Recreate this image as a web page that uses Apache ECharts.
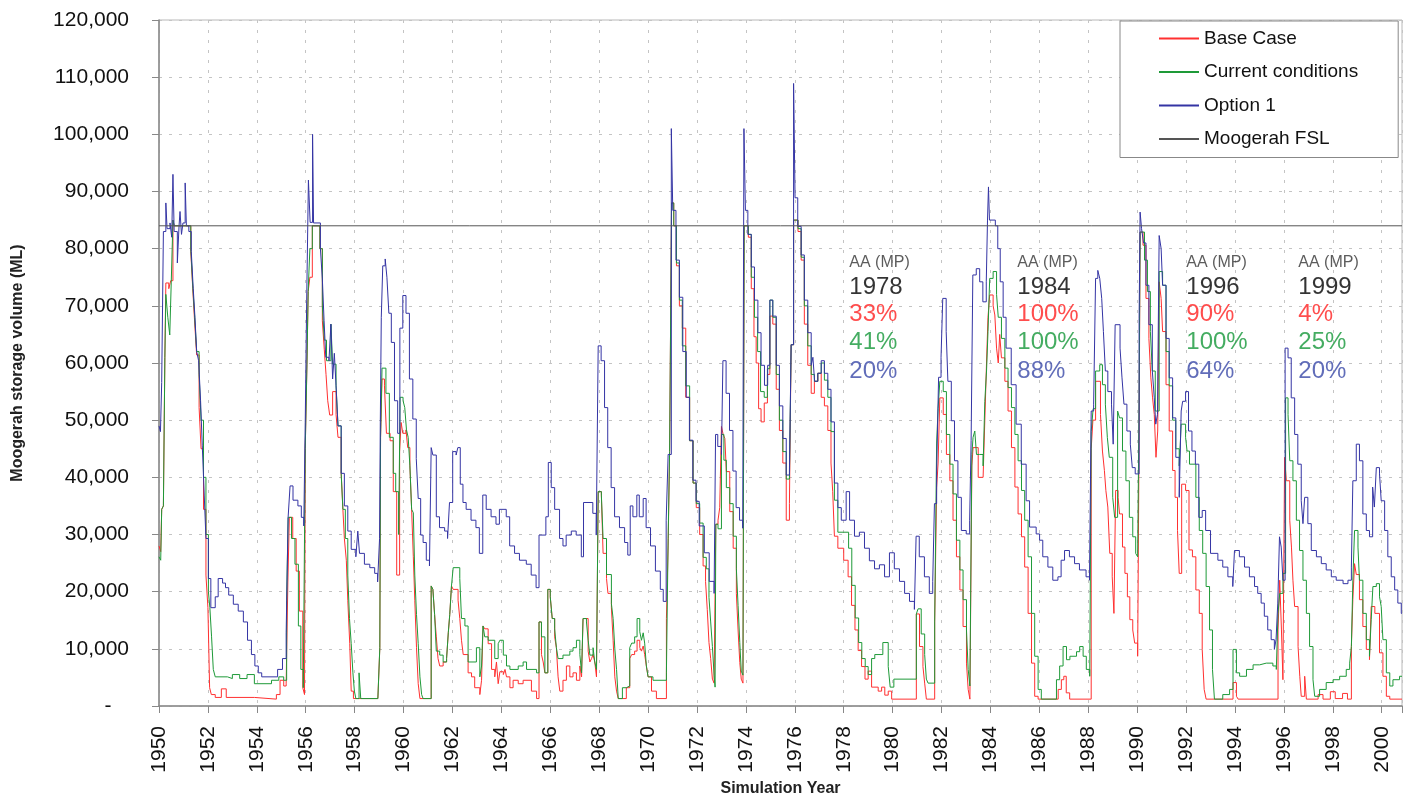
<!DOCTYPE html>
<html>
<head>
<meta charset="utf-8">
<script src="https://cdn.jsdelivr.net/npm/echarts@6/dist/echarts.min.js"></script>
<style>
html,body{margin:0;padding:0;background:#fff;}
#chart{width:1409px;height:802px;}
</style>
</head>
<body>
<div id="chart"></div>
<script>
// ---------- DATA (simulation year, storage ML) ----------
const seriesNames = ['Base Case', 'Current conditions', 'Option 1', 'Moogerah FSL'];

const baseCase = [
[1950.00,28000],[1950.07,27000],[1950.11,34400],[1950.18,35000],[1950.24,61000],[1950.28,74000],[1950.40,73000],[1950.48,74400],
[1950.57,85000],[1950.62,84000],[1951.30,79500],[1951.38,73000],[1951.46,67000],[1951.54,61400],[1951.64,52200],[1951.72,45000],
[1951.82,34400],[1951.92,22900],[1952.00,17200],[1952.07,3200],[1952.14,2000],[1952.30,1500],[1952.55,3000],[1952.75,1500],
[1953.90,1200],[1954.80,2000],[1954.95,4500],[1955.10,3500],[1955.20,4000],[1955.27,21700],[1955.33,33000],[1955.47,29300],
[1955.61,23600],[1955.74,16600],[1955.88,3200],[1955.95,2000],[1955.98,45000],[1956.05,59800],[1956.10,72500],[1956.17,75000],
[1956.27,84000],[1956.58,80000],[1956.68,67400],[1956.76,62300],[1956.83,58000],[1956.90,53400],[1956.98,50900],[1957.10,55000],
[1957.24,51000],[1957.32,47000],[1957.45,40700],[1957.52,34400],[1957.58,29300],[1957.66,25500],[1957.72,18500],[1957.80,10900],
[1957.86,2600],[1957.95,1300],[1958.95,1600],[1959.03,10200],[1959.06,47000],[1959.12,57200],[1959.22,56000],[1959.30,47700],
[1959.45,46400],[1959.58,37500],[1959.72,22900],[1959.84,44500],[1959.90,49600],[1959.97,47700],[1960.10,48300],[1960.17,45200],
[1960.26,42000],[1960.33,34400],[1960.40,26100],[1960.46,18500],[1960.53,10200],[1960.60,3900],[1960.67,1300],[1961.13,21000],
[1961.20,20400],[1961.27,16000],[1961.34,12100],[1961.41,8300],[1961.48,7000],[1961.62,7700],[1961.76,8300],[1961.83,12800],
[1961.89,16000],[1961.96,21000],[1962.03,20400],[1962.23,18500],[1962.30,15300],[1962.37,11500],[1962.44,9000],[1962.64,5800],
[1962.78,5100],[1962.91,3200],[1963.12,2000],[1963.19,4500],[1963.25,14000],[1963.32,13500],[1963.46,10900],[1963.60,6400],
[1963.73,5100],[1963.80,7700],[1963.87,3900],[1963.94,6000],[1964.08,5500],[1964.15,6400],[1964.21,5100],[1964.35,3200],
[1964.48,4500],[1964.69,3900],[1964.89,4500],[1965.23,2600],[1965.44,1300],[1965.54,14700],[1965.64,9000],[1965.71,7700],
[1965.78,5800],[1965.90,20400],[1966.00,19100],[1966.08,15300],[1966.18,12100],[1966.25,10200],[1966.32,5100],[1966.39,2600],
[1966.52,4500],[1966.66,7000],[1966.80,5100],[1966.93,5800],[1967.07,4500],[1967.21,7000],[1967.28,5100],[1967.34,15300],
[1967.55,9600],[1967.62,7700],[1967.69,8300],[1967.75,9000],[1967.82,7700],[1967.89,5100],[1967.96,37500],[1968.09,36900],
[1968.16,26700],[1968.30,22300],[1968.36,19700],[1968.50,17200],[1968.57,11500],[1968.64,5100],[1968.71,2600],[1968.78,1300],
[1969.11,3200],[1969.25,8300],[1969.33,9000],[1969.45,9600],[1969.55,11500],[1969.66,10200],[1969.73,9600],[1969.80,10500],
[1969.86,9000],[1969.93,7000],[1970.00,5100],[1970.14,2600],[1970.34,1300],[1970.75,15300],[1970.82,28000],[1970.88,44500],
[1970.96,88000],[1971.05,84000],[1971.16,77000],[1971.28,70000],[1971.40,66100],[1971.54,54000],[1971.70,46400],[1971.84,39000],
[1971.97,34700],[1972.11,30000],[1972.25,24500],[1972.35,21800],[1972.42,16900],[1972.49,11100],[1972.56,8300],[1972.63,4700],
[1972.70,4000],[1972.77,31800],[1972.86,32500],[1972.93,34700],[1973.00,48900],[1973.07,47500],[1973.14,46800],[1973.20,41000],
[1973.34,34000],[1973.48,27600],[1973.61,19700],[1973.68,13300],[1973.75,7600],[1973.81,4700],[1973.88,4000],[1973.93,84000],
[1974.10,82000],[1974.22,73000],[1974.33,64600],[1974.42,60000],[1974.52,52000],[1974.62,49700],[1974.75,53000],[1974.88,58000],
[1974.98,68200],[1975.10,66800],[1975.24,55400],[1975.37,48200],[1975.51,42500],[1975.65,32500],[1975.78,35400],[1975.85,63200],
[1975.95,85000],[1976.13,83000],[1976.26,78000],[1976.39,66800],[1976.53,59600],[1976.67,54700],[1976.80,56800],[1976.94,58200],
[1977.08,54000],[1977.21,52500],[1977.35,48200],[1977.48,42500],[1977.55,37500],[1977.62,29700],[1977.76,27600],[1978.00,25500],
[1978.18,22600],[1978.32,17600],[1978.46,13300],[1978.59,9700],[1978.73,6900],[1978.87,4700],[1979.00,6100],[1979.14,3300],
[1979.41,2600],[1979.55,3300],[1979.68,1900],[1979.82,2600],[1979.96,1200],[1980.97,16100],[1981.10,10400],[1981.24,6900],
[1981.31,4000],[1981.38,1200],[1981.72,14700],[1981.80,38200],[1981.86,42500],[1981.93,53900],[1982.07,51000],[1982.20,44000],
[1982.34,39400],[1982.47,32500],[1982.61,26100],[1982.75,20300],[1982.88,13900],[1983.02,7500],[1983.09,2900],[1983.16,1200],
[1983.24,42000],[1983.29,45200],[1983.50,40000],[1983.70,40000],[1983.77,50000],[1983.84,60000],[1983.90,68000],[1983.97,71900],
[1984.11,70000],[1984.18,68400],[1984.25,62600],[1984.32,60000],[1984.38,65000],[1984.45,60900],[1984.59,56800],[1984.72,51600],
[1984.86,45200],[1985.00,38300],[1985.13,33600],[1985.27,29600],[1985.40,24300],[1985.54,16200],[1985.68,7500],[1985.81,1700],
[1985.95,1200],[1986.77,2900],[1986.90,4600],[1987.00,5200],[1987.10,2300],[1987.24,1200],[1988.12,45000],[1988.19,50000],
[1988.30,56800],[1988.50,51000],[1988.58,44600],[1988.66,41200],[1988.72,37700],[1988.80,34800],[1988.88,26700],[1988.98,22600],
[1989.05,16200],[1989.12,37700],[1989.22,36500],[1989.28,33600],[1989.40,27800],[1989.50,23200],[1989.60,19100],[1989.70,15100],
[1989.82,13300],[1989.90,11000],[1990.02,8700],[1990.08,48100],[1990.12,82900],[1990.24,80600],[1990.36,71300],[1990.48,64300],
[1990.56,57400],[1990.63,53900],[1990.70,51000],[1990.77,43500],[1990.84,48100],[1990.90,74200],[1990.98,71300],[1991.04,65500],
[1991.18,56200],[1991.31,48100],[1991.45,41200],[1991.55,36500],[1991.65,30700],[1991.72,23200],[1991.82,38800],[1991.98,37700],
[1992.12,27300],[1992.26,26100],[1992.40,20300],[1992.54,16200],[1992.66,9900],[1992.74,2900],[1992.82,1200],[1993.92,4100],
[1994.06,1700],[1994.13,1200],[1995.76,13300],[1995.83,22000],[1995.90,13300],[1995.96,4600],[1996.03,43500],[1996.10,39400],
[1996.24,32500],[1996.31,27800],[1996.37,22000],[1996.44,17400],[1996.58,10400],[1996.65,5200],[1996.71,1700],[1996.85,5200],
[1996.92,1200],[1997.40,2000],[1997.60,1200],[1997.90,2500],[1998.10,1300],[1998.40,2200],[1998.60,1200],[1998.76,10400],
[1998.82,18600],[1998.89,24900],[1998.96,23000],[1999.09,18600],[1999.23,13900],[1999.37,9900],[1999.50,8100],[1999.57,17400],
[1999.72,16200],[1999.91,9300],[2000.05,5200],[2000.19,1700],[2000.33,1200],[2000.83,1200]
];

const currentConditions = [
[1950.00,26100],[1950.07,25500],[1950.11,34400],[1950.18,35000],[1950.24,61000],[1950.28,72000],[1950.36,68000],[1950.44,64900],
[1950.50,74000],[1950.57,85000],[1950.62,84000],[1951.30,80000],[1951.38,73500],[1951.46,68000],[1951.54,62000],[1951.64,58000],
[1951.72,50000],[1951.82,40000],[1951.92,30000],[1952.02,20000],[1952.08,17200],[1952.15,12100],[1952.22,6400],[1952.30,5100],
[1952.80,4800],[1953.00,5500],[1953.30,4800],[1953.60,5500],[1953.90,3900],[1954.60,4500],[1954.90,5100],[1955.10,4500],
[1955.22,18500],[1955.28,33000],[1955.42,29300],[1955.56,24800],[1955.70,14000],[1955.80,6400],[1955.90,3200],[1955.98,45000],
[1956.05,59800],[1956.10,72500],[1956.17,80000],[1956.27,84000],[1956.58,80000],[1956.68,70000],[1956.76,64000],[1956.85,60400],
[1957.03,66800],[1957.10,59800],[1957.24,56000],[1957.32,49000],[1957.45,40700],[1957.52,34400],[1957.62,29300],[1957.72,22900],
[1957.79,15300],[1957.86,10900],[1957.93,5800],[1957.99,2600],[1958.05,1300],[1958.18,5800],[1958.25,1300],[1958.95,1600],
[1959.03,10200],[1959.06,47000],[1959.12,59100],[1959.28,54700],[1959.42,47000],[1959.58,40700],[1959.68,37500],[1959.80,30000],
[1959.86,54000],[1959.98,53400],[1960.05,52200],[1960.12,48300],[1960.19,47000],[1960.26,42000],[1960.33,34400],[1960.40,33800],
[1960.46,22900],[1960.53,16000],[1960.60,10900],[1960.67,5100],[1960.74,2000],[1960.80,1300],[1961.13,21000],[1961.20,20400],
[1961.27,16000],[1961.34,9600],[1961.48,8900],[1961.62,7700],[1961.76,8300],[1961.83,12800],[1961.89,16000],[1961.96,21000],
[1962.03,24200],[1962.30,22300],[1962.37,15300],[1962.51,14000],[1962.64,7700],[1962.98,10200],[1963.12,5100],[1963.19,7000],
[1963.25,14000],[1963.32,12100],[1963.46,11500],[1963.73,8300],[1963.87,10900],[1963.94,11500],[1964.08,8900],[1964.21,7000],
[1964.35,6400],[1964.69,7000],[1964.89,7700],[1965.03,6400],[1965.44,5800],[1965.54,14700],[1965.64,12100],[1965.78,5800],
[1965.90,20400],[1966.00,19100],[1966.08,15300],[1966.18,13500],[1966.25,10200],[1966.32,8300],[1966.52,8900],[1966.80,9600],
[1966.93,10200],[1967.07,11500],[1967.21,9000],[1967.28,5800],[1967.34,15300],[1967.48,14700],[1967.55,11500],[1967.62,8900],
[1967.75,10200],[1967.82,7700],[1967.89,6400],[1967.96,37500],[1968.09,36900],[1968.16,29300],[1968.30,23000],[1968.50,17900],
[1968.57,15300],[1968.64,10000],[1968.71,6400],[1968.78,1300],[1968.95,3200],[1969.11,3500],[1969.25,10200],[1969.33,11000],
[1969.45,12100],[1969.55,15300],[1969.66,13000],[1969.73,11500],[1969.80,12800],[1969.86,11000],[1969.93,7000],[1970.00,5100],
[1970.20,4500],[1970.75,5800],[1970.82,29300],[1970.88,44500],[1970.96,88000],[1971.05,84000],[1971.16,77500],[1971.28,71000],
[1971.40,63000],[1971.54,56000],[1971.70,46400],[1971.84,39000],[1971.97,35400],[1972.11,32000],[1972.25,26000],[1972.38,24000],
[1972.49,19000],[1972.56,14700],[1972.63,10400],[1972.70,5400],[1972.74,3300],[1972.77,31800],[1972.86,31000],[1973.00,47500],
[1973.10,43000],[1973.20,38200],[1973.34,35400],[1973.48,29700],[1973.61,24000],[1973.68,17600],[1973.75,11100],[1973.81,6100],
[1973.88,5400],[1973.93,84000],[1974.10,82500],[1974.22,75000],[1974.35,68000],[1974.48,62000],[1974.60,55000],[1974.75,54000],
[1974.88,59000],[1974.98,71000],[1975.10,68000],[1975.24,58000],[1975.37,50000],[1975.51,44500],[1975.65,39700],[1975.78,40000],
[1975.85,63200],[1975.95,85000],[1976.13,83500],[1976.26,78500],[1976.39,70000],[1976.53,63000],[1976.67,58000],[1976.80,56800],
[1976.94,58200],[1977.08,60000],[1977.21,57000],[1977.35,54000],[1977.48,48000],[1977.62,36000],[1977.76,30400],[1978.20,27600],
[1978.33,21100],[1978.47,15400],[1978.61,11100],[1978.74,8300],[1978.88,6900],[1979.00,5500],[1979.14,8300],[1979.27,9000],
[1979.60,11100],[1979.82,6900],[1979.90,3300],[1980.05,4700],[1980.97,16100],[1981.04,17000],[1981.17,12600],[1981.31,9000],
[1981.38,4700],[1981.45,4000],[1981.72,14700],[1981.80,46000],[1981.86,52000],[1981.93,56800],[1982.07,55000],[1982.20,47500],
[1982.34,42300],[1982.47,37100],[1982.61,29000],[1982.75,23800],[1982.88,18600],[1983.02,13300],[1983.09,6400],[1983.16,3500],
[1983.24,44000],[1983.29,47000],[1983.36,48100],[1983.43,44000],[1983.56,44000],[1983.70,42000],[1983.77,53300],[1983.84,58600],
[1983.90,65500],[1983.97,74800],[1984.11,76000],[1984.25,72000],[1984.32,68000],[1984.45,64300],[1984.59,59100],[1984.72,55700],
[1984.86,52200],[1985.00,47500],[1985.13,42900],[1985.27,37700],[1985.40,32500],[1985.54,26100],[1985.68,16200],[1985.81,8700],
[1985.95,2900],[1986.08,1200],[1986.70,4600],[1986.83,7000],[1986.97,10400],[1987.11,8100],[1987.25,8700],[1987.52,9500],
[1987.65,10400],[1987.79,8700],[1987.92,6400],[1988.06,5200],[1988.12,48000],[1988.20,52000],[1988.30,58600],[1988.47,59700],
[1988.58,56200],[1988.70,52800],[1988.78,47000],[1988.86,43500],[1989.00,36500],[1989.08,33000],[1989.20,51600],[1989.28,50400],
[1989.40,44600],[1989.54,39400],[1989.68,33000],[1989.82,29600],[1989.94,26700],[1990.02,26100],[1990.08,53900],[1990.12,82900],
[1990.30,78000],[1990.42,72500],[1990.54,65500],[1990.62,58600],[1990.74,51600],[1990.90,76000],[1991.04,73600],[1991.18,62000],
[1991.31,56000],[1991.45,50000],[1991.58,45000],[1991.72,42000],[1991.80,49300],[1991.98,47000],[1992.04,44600],[1992.14,42300],
[1992.40,36500],[1992.54,30700],[1992.68,26700],[1992.82,20900],[1992.96,13300],[1993.08,6400],[1993.16,1200],[1993.50,2000],
[1993.78,2900],[1993.92,9900],[1994.06,5800],[1994.19,5200],[1994.47,6400],[1994.74,7200],[1995.01,7500],[1995.28,7500],
[1995.55,7000],[1995.69,6400],[1995.76,16200],[1995.83,19700],[1995.96,23200],[1996.07,53900],[1996.17,51000],[1996.24,42900],
[1996.37,39400],[1996.51,32500],[1996.64,27200],[1996.78,22000],[1996.92,16200],[1997.05,10400],[1997.19,4600],[1997.26,1700],
[1997.46,2900],[1997.73,4100],[1998.01,4600],[1998.28,5200],[1998.55,6400],[1998.69,7500],[1998.76,10400],[1998.82,22000],
[1998.89,30700],[1999.03,27800],[1999.09,22000],[1999.23,16200],[1999.37,11600],[1999.50,8700],[1999.57,15100],[1999.64,20900],
[1999.78,21400],[1999.91,19100],[1999.98,17400],[2000.05,11600],[2000.19,5800],[2000.33,3500],[2000.46,4600],[2000.73,5200],
[2000.83,5200]
];

const option1 = [
[1950.00,49000],[1950.06,48000],[1950.11,56600],[1950.18,83000],[1950.28,88000],[1950.33,83500],[1950.45,84500],[1950.52,82000],
[1950.57,93000],[1950.62,83000],[1950.75,77500],[1950.82,84000],[1950.86,86500],[1950.92,82500],[1950.98,84500],[1951.07,91500],
[1951.12,84000],[1951.22,83000],[1951.32,79500],[1951.40,73000],[1951.47,68000],[1951.54,62000],[1951.62,60400],[1951.70,53400],
[1951.77,45500],[1951.85,36900],[1951.92,29300],[1952.02,22300],[1952.12,17200],[1952.30,19100],[1952.42,22300],[1952.60,21500],
[1952.72,20700],[1952.85,19400],[1953.04,17800],[1953.24,16600],[1953.45,14700],[1953.62,11500],[1953.78,9000],[1953.92,7000],
[1954.06,5800],[1954.20,5100],[1954.85,6400],[1955.05,8300],[1955.20,12800],[1955.28,33000],[1955.36,38500],[1955.48,36000],
[1955.68,35000],[1955.82,33000],[1955.92,31500],[1955.98,49600],[1956.04,71000],[1956.11,92000],[1956.18,84600],[1956.28,100000],
[1956.32,84500],[1956.60,80000],[1956.68,74700],[1956.75,67400],[1956.82,61000],[1956.95,60400],[1957.03,66800],[1957.10,57200],
[1957.17,61700],[1957.24,56000],[1957.32,49000],[1957.45,40700],[1957.58,35000],[1957.72,30600],[1957.86,27400],[1958.05,26100],
[1958.13,30600],[1958.20,26700],[1958.40,24800],[1958.62,24200],[1958.82,23200],[1958.94,21700],[1959.02,29300],[1959.05,49600],
[1959.09,68000],[1959.15,77000],[1959.25,78200],[1959.32,75000],[1959.40,68700],[1959.50,63600],[1959.63,53400],[1959.76,47700],
[1959.85,66100],[1959.97,71800],[1960.10,68700],[1960.24,57200],[1960.38,50200],[1960.52,43300],[1960.60,36300],[1960.70,29900],
[1960.80,28600],[1960.93,25500],[1961.06,24500],[1961.13,45200],[1961.20,43900],[1961.34,33100],[1961.47,31200],[1961.68,30600],
[1961.80,29300],[1961.88,35600],[1962.01,44500],[1962.15,43900],[1962.22,45200],[1962.32,38800],[1962.43,35600],[1962.56,34400],
[1962.76,32500],[1962.96,31200],[1963.10,26700],[1963.24,36900],[1963.38,34400],[1963.58,33100],[1963.78,31800],[1963.92,34400],
[1964.20,33100],[1964.34,28000],[1964.54,26700],[1964.74,25500],[1965.02,24800],[1965.22,22900],[1965.42,20700],[1965.54,29900],
[1965.82,33100],[1965.92,42600],[1966.04,38200],[1966.18,34400],[1966.38,29300],[1966.52,28000],[1966.65,29900],[1966.86,30600],
[1967.06,29900],[1967.27,26100],[1967.36,35600],[1967.74,33700],[1967.88,29900],[1967.96,63000],[1968.08,60400],[1968.22,52200],
[1968.35,45200],[1968.49,38200],[1968.63,33100],[1968.83,31200],[1969.04,28600],[1969.17,26400],[1969.27,35000],[1969.38,33100],
[1969.54,36900],[1969.64,33100],[1969.80,36300],[1969.92,31200],[1970.10,28000],[1970.30,23600],[1970.50,20400],[1970.62,18300],
[1970.74,32500],[1970.82,44000],[1970.95,101000],[1971.01,86700],[1971.14,78000],[1971.28,71500],[1971.42,62000],[1971.56,54000],
[1971.69,46500],[1971.83,39500],[1971.96,35800],[1972.09,31500],[1972.30,26800],[1972.50,21800],[1972.70,19700],[1972.76,47500],
[1972.85,45400],[1973.00,44000],[1973.06,60400],[1973.19,54700],[1973.33,48200],[1973.47,41100],[1973.60,34700],[1973.74,32500],
[1973.87,31100],[1973.92,101000],[1973.98,86700],[1974.08,82500],[1974.22,76800],[1974.35,71000],[1974.49,65300],[1974.62,59600],
[1974.76,56100],[1974.89,59600],[1974.98,71000],[1975.10,68200],[1975.24,59600],[1975.37,52500],[1975.51,46800],[1975.65,40400],
[1975.78,41100],[1975.85,63200],[1975.95,108900],[1976.01,88900],[1976.12,83900],[1976.26,78900],[1976.39,71000],[1976.53,65300],
[1976.67,59600],[1976.74,61000],[1976.81,56800],[1976.94,58200],[1977.08,60400],[1977.21,58200],[1977.35,55400],[1977.48,49700],
[1977.62,39000],[1977.76,34700],[1977.90,32500],[1978.10,37500],[1978.24,32500],[1978.44,29700],[1978.64,30400],[1978.85,27600],
[1979.05,25400],[1979.26,24000],[1979.46,24700],[1979.67,22600],[1979.87,26800],[1980.07,24000],[1980.28,21800],[1980.49,19700],
[1980.69,18300],[1980.89,16900],[1980.96,29700],[1981.09,26100],[1981.30,22600],[1981.50,19700],[1981.64,21800],[1981.71,35400],
[1981.80,41100],[1981.88,57500],[1981.98,61000],[1982.05,71300],[1982.19,65500],[1982.26,56800],[1982.40,49900],[1982.53,42900],
[1982.67,36500],[1982.81,30700],[1983.01,30100],[1983.15,32500],[1983.21,46400],[1983.28,75400],[1983.42,76500],[1983.56,74200],
[1983.69,70700],[1983.83,74200],[1983.88,85000],[1983.92,90800],[1983.96,85000],[1984.20,84000],[1984.30,80000],[1984.40,74200],
[1984.52,68000],[1984.64,62600],[1984.85,56200],[1985.05,49300],[1985.26,42300],[1985.46,35900],[1985.60,31300],[1985.87,30100],
[1986.01,29000],[1986.14,26100],[1986.35,24300],[1986.55,22000],[1986.76,22600],[1986.89,25500],[1987.03,27200],[1987.23,26100],
[1987.44,24900],[1987.64,23800],[1987.91,22600],[1988.05,22000],[1988.12,51600],[1988.22,52800],[1988.30,74800],[1988.39,76200],
[1988.47,74800],[1988.55,71300],[1988.62,65500],[1988.70,58600],[1988.80,55000],[1988.95,52800],[1989.02,45800],[1989.10,66700],
[1989.30,62600],[1989.38,57400],[1989.46,52800],[1989.58,48100],[1989.72,45800],[1989.80,41700],[1989.92,40600],[1990.08,67800],
[1990.12,86400],[1990.18,83500],[1990.26,81000],[1990.36,73600],[1990.48,66700],[1990.62,58600],[1990.70,53900],[1990.76,49300],
[1990.83,51000],[1990.90,82300],[1990.98,80000],[1991.04,73600],[1991.18,64300],[1991.31,57400],[1991.45,50400],[1991.58,43500],
[1991.72,36500],[1991.80,51600],[1991.86,53300],[1991.98,55000],[1992.10,48100],[1992.24,44600],[1992.38,42300],[1992.52,33000],
[1992.66,34200],[1992.80,30700],[1993.00,26700],[1993.30,25500],[1993.50,24300],[1993.71,22600],[1993.91,20900],[1993.98,27200],
[1994.18,26100],[1994.39,24300],[1994.59,22600],[1994.80,20900],[1994.93,19700],[1995.07,18000],[1995.20,15700],[1995.34,13300],
[1995.48,11600],[1995.61,9900],[1995.68,11600],[1995.75,18000],[1995.82,29600],[1995.89,27800],[1995.96,22000],[1996.05,62600],
[1996.17,60900],[1996.30,53900],[1996.44,47500],[1996.57,42300],[1996.71,35900],[1996.78,31900],[1996.85,36500],[1996.98,31900],
[1997.12,27200],[1997.33,26100],[1997.53,24900],[1997.73,23800],[1997.94,22600],[1998.14,22000],[1998.42,21400],[1998.62,22000],
[1998.76,24300],[1998.82,39400],[1998.96,45800],[1999.09,42900],[1999.23,33600],[1999.37,30700],[1999.50,29600],[1999.63,38300],
[1999.70,34800],[1999.78,41700],[1999.91,40600],[1999.98,35900],[2000.12,30700],[2000.25,26100],[2000.39,22600],[2000.53,20300],
[2000.66,18000],[2000.80,16200],[2000.83,16200]
];

const fslVolume = 84000;
const xStart = 1950, xEnd = 2000.83;

// annotation blocks (anchor year, anchor volume for top of text)
const annotAnchorYear = [1978.25, 1985.12, 1992.03, 1996.61];
const annotAnchorVol = 79500;
const annotYears = ['1978', '1984', '1996', '1999'];
const annotBase = ['33%', '100%', '90%', '4%'];
const annotCurrent = ['41%', '100%', '100%', '25%'];
const annotOption = ['20%', '88%', '64%', '20%'];

// ---------- CHART ----------
const FONT = "'Liberation Sans', Arial, sans-serif";
const colors = { base: '#ff3030', current: '#1e9a38', option: '#3434a4', fsl: '#555555' };

const chart = echarts.init(document.getElementById('chart'), null, { renderer: 'canvas' });

const lineSeries = (name, data, color, z) => ({
  name, type: 'line', data, step: 'end', symbol: 'none', showSymbol: false,
  lineStyle: { color, width: 1 }, itemStyle: { color }, z, silent: true
});

const annotData = annotAnchorYear.map((y, i) => ({
  value: [y, annotAnchorVol],
  label: {
    formatter: '{a|AA (MP)}\n{y|' + annotYears[i] + '}\n{r|' + annotBase[i] + '}\n{g|' + annotCurrent[i] + '}\n{b|' + annotOption[i] + '}'
  }
}));

const option = {
  animation: false,
  backgroundColor: '#fff',
  textStyle: { fontFamily: FONT },
  grid: { left: 159, right: 7, top: 20, bottom: 92, show: true, borderColor: '#b8b8b8', borderWidth: 1, backgroundColor: 'transparent' },
  legend: {
    data: seriesNames,
    orient: 'vertical',
    left: 1120, top: 21,
    padding: [8, 40, 9, 38],
    itemWidth: 40, itemHeight: 14, itemGap: 14.5,
    backgroundColor: '#fff',
    borderColor: '#888', borderWidth: 1,
    itemStyle: { opacity: 0 },
    textStyle: { fontSize: 19, color: '#111', fontFamily: FONT },
    selectedMode: false
  },
  xAxis: {
    type: 'value', min: xStart, max: xEnd, interval: 2,
    name: 'Simulation Year', nameLocation: 'middle', nameGap: 75,
    nameTextStyle: { fontWeight: 'bold', fontSize: 16, color: '#222', fontFamily: FONT },
    axisLine: { show: true, lineStyle: { color: '#888', width: 1.5 } },
    axisTick: { show: true, length: 7, lineStyle: { color: '#888', width: 1 } },
    axisLabel: {
      rotate: 90, fontSize: 21, color: '#111', margin: 20, fontFamily: FONT,
      formatter: v => (Math.abs(v - Math.round(v)) < 1e-6 && Math.round(v) % 2 === 0) ? String(Math.round(v)) : ''
    },
    splitLine: { show: true, lineStyle: { type: [3, 7], color: '#c4c4c4', width: 1 } }
  },
  yAxis: {
    type: 'value', min: 0, max: 120000, interval: 10000,
    name: 'Moogerah storage volume (ML)', nameLocation: 'middle', nameGap: 133,
    nameTextStyle: { fontWeight: 'bold', fontSize: 16, color: '#222', fontFamily: FONT },
    axisLine: { show: true, lineStyle: { color: '#888', width: 1.5 } },
    axisTick: { show: true, length: 7, lineStyle: { color: '#888', width: 1 } },
    axisLabel: {
      fontSize: 21, color: '#111', margin: 30, fontFamily: FONT,
      formatter: v => v === 0 ? '-   ' : v.toLocaleString('en-US')
    },
    splitLine: { show: true, lineStyle: { type: [3, 7], color: '#c4c4c4', width: 1 } }
  },
  series: [
    lineSeries('Base Case', baseCase, colors.base, 2),
    lineSeries('Current conditions', currentConditions, colors.current, 3),
    lineSeries('Option 1', option1, colors.option, 4),
    lineSeries('Moogerah FSL', [[xStart, fslVolume], [xEnd, fslVolume]], colors.fsl, 5),
    {
      name: 'annotations', type: 'scatter', data: annotData, symbol: 'circle', symbolSize: 1,
      itemStyle: { color: 'rgba(0,0,0,0)' }, silent: true, z: 10,
      label: {
        show: true, position: [0, 0], align: 'left', verticalAlign: 'top',
        rich: {
          a: { fontSize: 16, lineHeight: 24, color: '#333', fontFamily: FONT },
          y: { fontSize: 24, lineHeight: 25, color: '#000', fontFamily: FONT },
          r: { fontSize: 24, lineHeight: 28.5, color: '#ff2020', fontFamily: FONT },
          g: { fontSize: 24, lineHeight: 28.5, color: '#15973a', fontFamily: FONT },
          b: { fontSize: 24, lineHeight: 28.5, color: '#3a48a8', fontFamily: FONT }
        }
      }
    }
  ]
};

chart.setOption(option);
</script>
</body>
</html>
